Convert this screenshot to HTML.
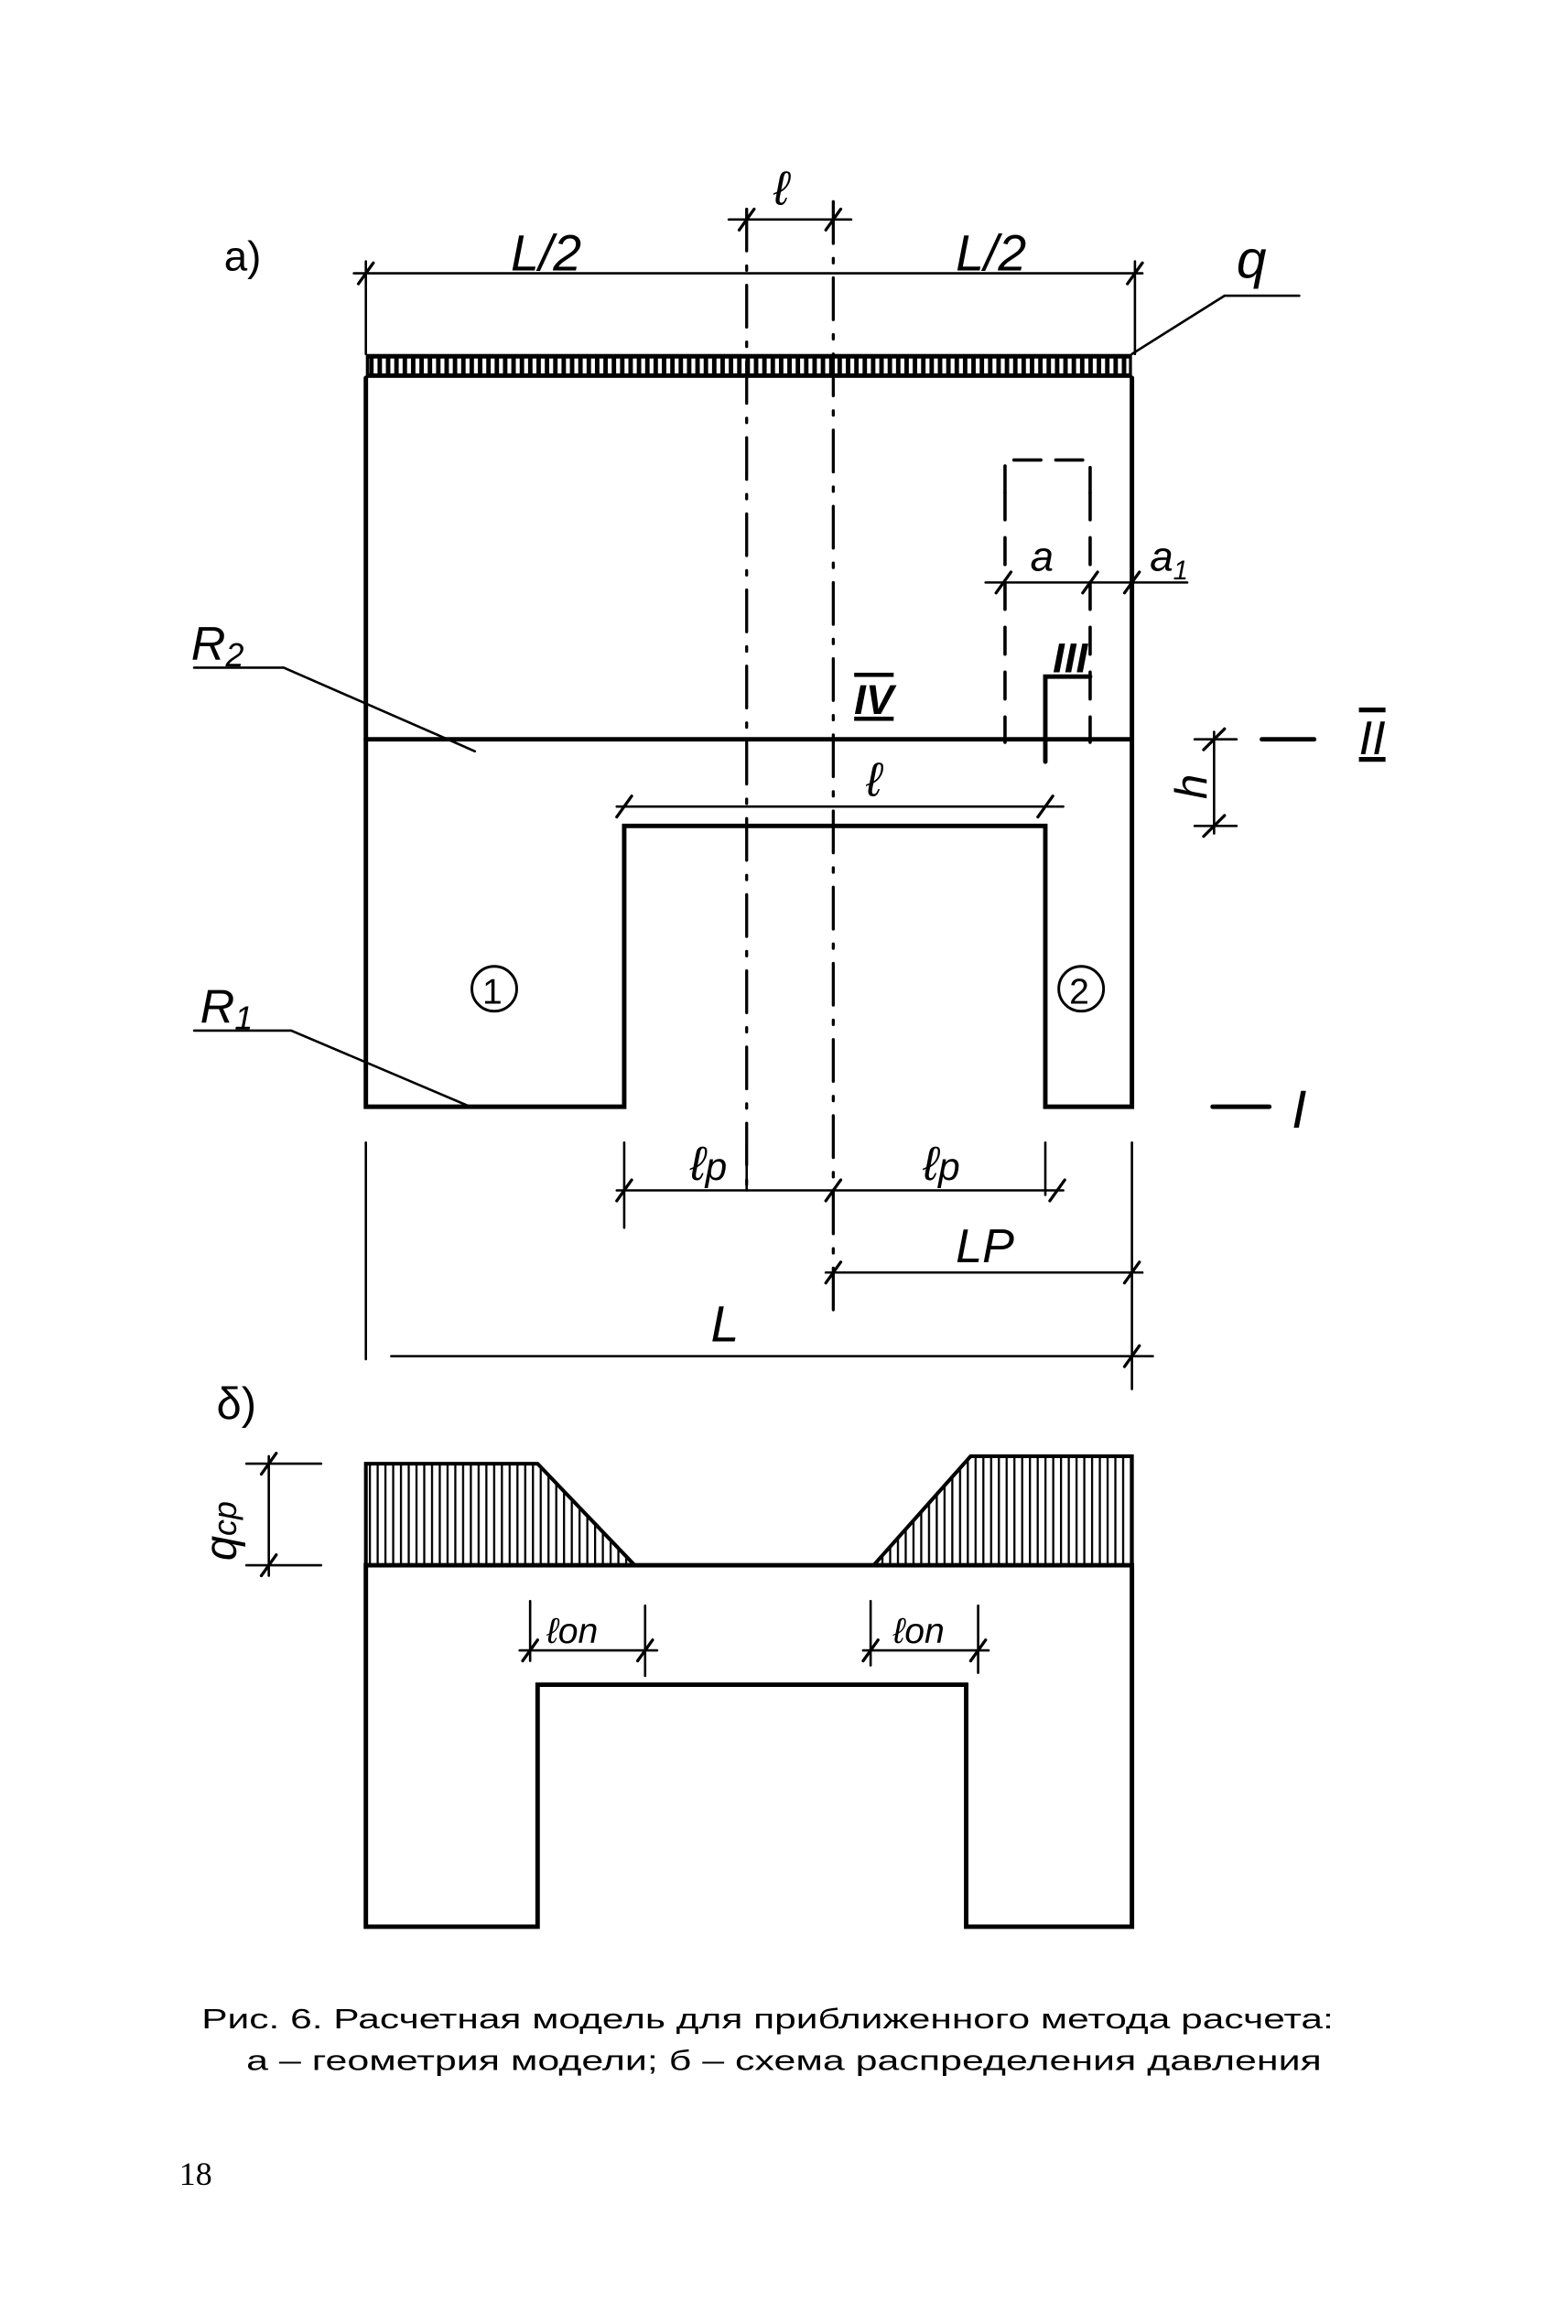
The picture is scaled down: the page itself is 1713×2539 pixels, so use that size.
<!DOCTYPE html>
<html><head><meta charset="utf-8"><style>
html,body{margin:0;padding:0;background:#fff}
svg{display:block}
</style></head><body>
<svg width="1713" height="2539" viewBox="0 0 1050 1556" preserveAspectRatio="none" xmlns="http://www.w3.org/2000/svg">
<defs>
<pattern id="slots" x="249" y="0" width="5.6" height="1556" patternUnits="userSpaceOnUse">
<rect x="1.2" y="240" width="2.6" height="10" fill="#fff"/>
</pattern>
<pattern id="vh" x="247" y="0" width="5.2" height="1556" patternUnits="userSpaceOnUse">
<rect x="0" y="0" width="1.4" height="1556" fill="#000"/>
</pattern>
</defs>
<g fill="none" stroke="#000" stroke-linecap="round">
<!-- load strip -->
<rect x="245" y="237" width="513" height="16" fill="#000" stroke="none"/>
<rect x="247" y="240" width="509" height="10" fill="url(#slots)" stroke="none"/>
<!-- outer walls -->
<path d="M245 253 V741 H418 V553 H700 V741 H758 V253" stroke-width="3"/>
<line x1="245" y1="495" x2="758" y2="495" stroke-width="3"/>
<!-- centerlines -->
<line x1="500" y1="140" x2="500" y2="800" stroke-width="2" stroke-dasharray="28,10,3,10"/>
<line x1="558" y1="135" x2="558" y2="880" stroke-width="2" stroke-dasharray="28,10,3,10"/>
<!-- dashed rect -->
<path d="M673 330 V308 H730 V330" stroke-width="2.2" stroke-dasharray="18,10"/>
<line x1="673" y1="330" x2="673" y2="497" stroke-width="2.2" stroke-dasharray="18,12"/>
<line x1="730" y1="330" x2="730" y2="497" stroke-width="2.2" stroke-dasharray="18,12"/>
<!-- III step -->
<path d="M700 510 V453 H730" stroke-width="3"/>
<!-- dimension lines -->
<g stroke-width="1.6">
<line x1="237" y1="183" x2="765" y2="183"/>
<line x1="245" y1="175" x2="245" y2="237"/>
<line x1="760" y1="175" x2="760" y2="237"/>
<line x1="488" y1="147" x2="570" y2="147"/>
<line x1="660" y1="390" x2="795" y2="390"/>
<line x1="413" y1="540" x2="712" y2="540"/>
<line x1="800" y1="495" x2="828" y2="495"/>
<line x1="800" y1="553" x2="828" y2="553"/>
<line x1="813" y1="490" x2="813" y2="558"/>
<line x1="418" y1="765" x2="418" y2="822"/>
<line x1="500" y1="765" x2="500" y2="797"/>
<line x1="700" y1="765" x2="700" y2="800"/>
<line x1="758" y1="765" x2="758" y2="930"/>
<line x1="245" y1="765" x2="245" y2="910"/>
<line x1="413" y1="797" x2="712" y2="797"/>
<line x1="553" y1="852" x2="765" y2="852"/>
<line x1="262" y1="908" x2="772" y2="908"/>
<!-- leaders -->
<path d="M758 237 L820 198 H870"/>
<path d="M130 447 H190 L318 503"/>
<path d="M130 690 H195 L315 741"/>
</g>
<!-- ticks -->
<g stroke-width="2">
<path d="M240 190 L250 176 M755 190 L765 176 M495 154 L505 140 M553 154 L563 140 M667 397 L677 383 M725 397 L735 383 M753 397 L763 383 M413 547 L423 533 M695 547 L705 533 M806 502 L820 488 M806 560 L820 546 M413 804 L423 790 M553 804 L563 790 M703 804 L713 790 M553 859 L563 845 M753 859 L763 845 M753 915 L763 901"/>
</g>
<!-- II, I marks -->
<line x1="845" y1="495" x2="880" y2="495" stroke-width="3"/>
<line x1="812" y1="741" x2="850" y2="741" stroke-width="3"/>
<circle cx="331" cy="662" r="15" stroke-width="1.8"/>
<circle cx="724" cy="662" r="15" stroke-width="1.8"/>
<!-- part b -->
<polygon points="245,980 360,980 425,1048 245,1048" fill="url(#vh)" stroke="none"/>
<polygon points="585,1048 650,975 758,975 758,1048" fill="url(#vh)" stroke="none"/>
<path d="M245 1048 V980 H360 L425 1048 M585 1048 L650 975 H758 V1048" stroke-width="2.5"/>
<path d="M245 1048 H758 V1290 H647 V1128 H360 V1290 H245 Z" stroke-width="3"/>
<g stroke-width="1.6">
<line x1="165" y1="980" x2="215" y2="980"/>
<line x1="165" y1="1048" x2="215" y2="1048"/>
<line x1="180" y1="975" x2="180" y2="1055"/>
<line x1="348" y1="1105" x2="440" y2="1105"/>
<line x1="355" y1="1072" x2="355" y2="1112"/>
<line x1="432" y1="1075" x2="432" y2="1122"/>
<line x1="578" y1="1105" x2="662" y2="1105"/>
<line x1="583" y1="1072" x2="583" y2="1115"/>
<line x1="655" y1="1075" x2="655" y2="1120"/>
</g>
<path d="M350 1112 L360 1098 M427 1112 L437 1098 M578 1112 L588 1098 M650 1112 L660 1098 M175 987 L185 973 M175 1055 L185 1041" stroke-width="2"/>
</g>
<g font-family="'Liberation Sans', sans-serif" font-style="italic" fill="#000">
<text x="150" y="181" font-size="28" font-style="normal">a)</text>
<text x="342" y="181" font-size="34">L/2</text>
<text x="640" y="181" font-size="34">L/2</text>
<text x="518" y="137" font-size="32">ℓ</text>
<text x="828" y="186" font-size="36">q</text>
<text x="690" y="382" font-size="28">a</text>
<text x="770" y="382" font-size="28">a<tspan font-size="18" dy="6">1</tspan></text>
<text x="705" y="450" font-size="28" font-weight="bold">III</text>
<text x="572" y="478" font-size="28" font-weight="bold" text-decoration="overline underline">IV</text>
<text x="910" y="505" font-size="32" text-decoration="overline underline">II</text>
<text x="865" y="755" font-size="36">I</text>
<text x="580" y="533" font-size="32">ℓ</text>
<text transform="translate(808 535) rotate(-90)" font-size="30">h</text>
<text x="128" y="442" font-size="32">R<tspan font-size="22" dy="4">2</tspan></text>
<text x="134" y="685" font-size="32">R<tspan font-size="22" dy="4">1</tspan></text>
<text x="323" y="672" font-size="24" font-style="normal">1</text>
<text x="716" y="672" font-size="24" font-style="normal">2</text>
<text x="462" y="790" font-size="32">ℓ<tspan font-size="26">p</tspan></text>
<text x="618" y="790" font-size="32">ℓ<tspan font-size="26">p</tspan></text>
<text x="640" y="845" font-size="32">LP</text>
<text x="476" y="898" font-size="34">L</text>
<text x="145" y="950" font-size="30" font-style="normal">δ)</text>
<text transform="translate(158 1045) rotate(-90)" font-size="30">q<tspan font-size="22">cp</tspan></text>
<text x="366" y="1100" font-size="24">ℓon</text>
<text x="598" y="1100" font-size="24">ℓon</text>
</g>
<g font-family="'Liberation Sans', sans-serif" font-size="19" fill="#000">
<text x="135" y="1358" textLength="758" lengthAdjust="spacingAndGlyphs">Рис. 6. Расчетная модель для приближенного метода расчета:</text>
<text x="165" y="1386" textLength="720" lengthAdjust="spacingAndGlyphs">а – геометрия модели; б – схема распределения давления</text>
<text x="120" y="1463" font-family="'Liberation Serif', serif" font-size="22">18</text>
</g>
</svg>
</body></html>
